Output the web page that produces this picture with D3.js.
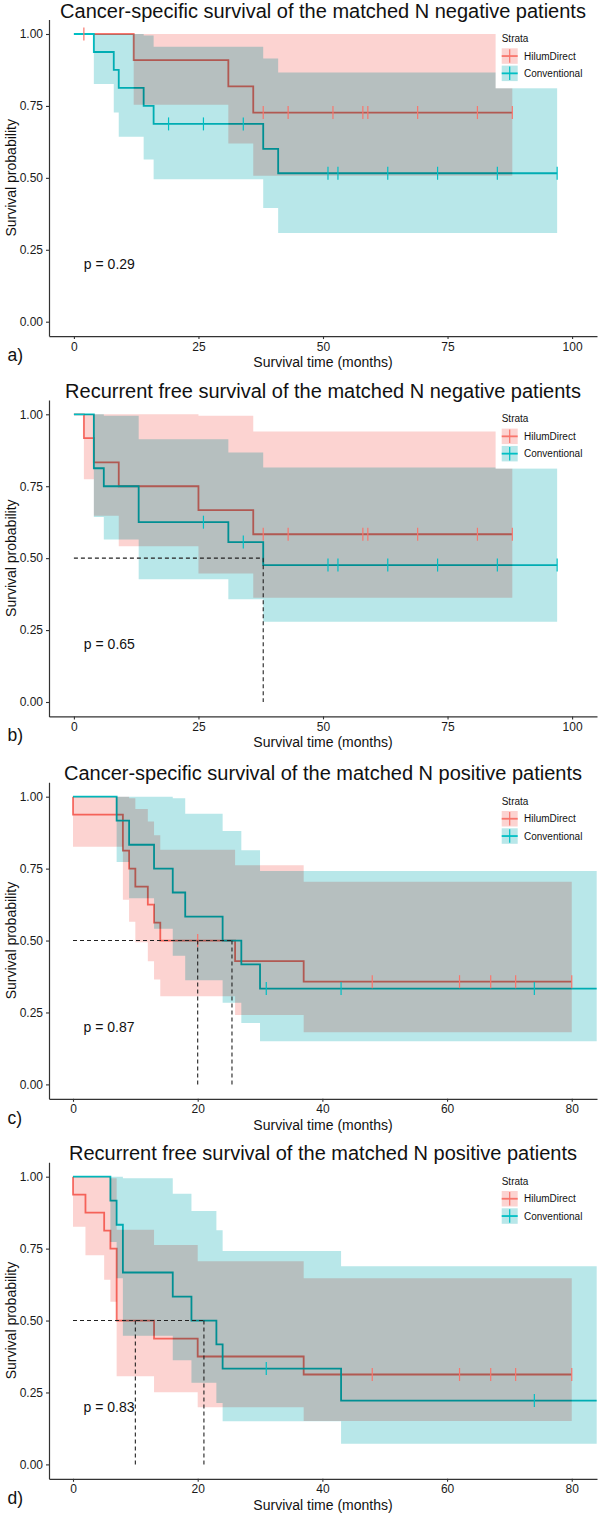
<!DOCTYPE html>
<html>
<head>
<meta charset="utf-8">
<script src="https://cdn.jsdelivr.net/npm/d3@7"></script>
<style>
  body { margin: 0; background: #fff; }
  svg { display: block; font-family: "Liberation Sans", Arial, sans-serif; }
</style>
</head>
<body>
<div id="chart"></div>
<script>
// Strata and labels
const strata = ['HilumDirect', 'Conventional'];
const lineColors = ['#F8766D', '#00BFC4'];
const ribbonColors = ['#FCD3D1', '#B8E7E9'];

const titles = [
    'Cancer-specific survival of the matched N negative patients',
    'Recurrent free survival of the matched N negative patients',
    'Cancer-specific survival of the matched N positive patients',
    'Recurrent free survival of the matched N positive patients'
];
const panelTags = ['a)', 'b)', 'c)', 'd)'];
const pLabels = ['p = 0.29', 'p = 0.65', 'p = 0.87', 'p = 0.83'];
const pLabelTime = [2, 2, 1.7, 1.7];
const xTicksNeg = [0, 25, 50, 75, 100];
const xTicksPos = [0, 20, 40, 60, 80];
const yTicks = [0, 0.25, 0.5, 0.75, 1];

// rows: [time, survival, lower CI, upper CI]
// a) cancer-specific, N negative
const aHilum = [[0, 1, 1, 1], [12, 0.909, 0.754, 1], [31, 0.818, 0.619, 1], [36, 0.727, 0.507, 1], [88, 0.727, 0.507, 1]];
const aHilumCensor = [2, 38, 43, 52, 58, 59, 69, 81, 88];
const aConv = [[0, 1, 1, 1], [4, 0.9375, 0.826, 1], [8, 0.875, 0.727, 1], [9, 0.8125, 0.643, 1], [14, 0.75, 0.564, 0.995],
    [16, 0.6875, 0.495, 0.956], [38, 0.601, 0.395, 0.915], [41, 0.516, 0.308, 0.866], [97, 0.516, 0.308, 0.866]];
const aConvCensor = [19, 26, 34, 51, 53, 63, 73, 85, 97];
const aMedians = [];

// b) recurrence free, N negative
const bHilum = [[0, 1, 1, 1], [2, 0.917, 0.774, 1], [4, 0.833, 0.647, 1], [9, 0.75, 0.541, 1], [25, 0.667, 0.447, 0.995],
    [36, 0.583, 0.362, 0.94], [88, 0.583, 0.362, 0.94]];
const bHilumCensor = [38, 43, 58, 59, 69, 81, 88];
const bConv = [[0, 1, 1, 1], [4, 0.8125, 0.643, 1], [6, 0.75, 0.565, 0.995], [13, 0.625, 0.427, 0.913],
    [31, 0.556, 0.357, 0.867], [38, 0.476, 0.279, 0.815], [97, 0.476, 0.279, 0.815]];
const bConvCensor = [26, 34, 51, 53, 63, 73, 85, 97];
const bMedians = [38];

// c) cancer-specific, N positive
const cHilum = [[0, 1, 1, 1], [0, 0.9375, 0.826, 1], [8, 0.8125, 0.642, 1], [9, 0.75, 0.565, 0.995], [10, 0.6875, 0.494, 0.957],
    [12, 0.625, 0.428, 0.914], [13, 0.5625, 0.365, 0.866], [14, 0.5, 0.306, 0.816], [26, 0.4286, 0.241, 0.762],
    [37, 0.357, 0.181, 0.704], [80, 0.357, 0.181, 0.704]];
const cHilumCensor = [20, 48, 62, 67, 71, 80];
const cConv = [[0, 1, 1, 1], [7, 0.917, 0.773, 1], [9, 0.833, 0.647, 1], [13, 0.75, 0.541, 1], [16, 0.667, 0.447, 0.995],
    [18, 0.583, 0.362, 0.941], [24, 0.5, 0.284, 0.881], [27, 0.417, 0.213, 0.814], [30, 0.333, 0.15, 0.742],
    [84, 0.333, 0.15, 0.742]];
const cConvCensor = [31, 43, 74];
const cMedians = [20, 25.5];

// d) recurrence free, N positive
const dHilum = [[0, 1, 1, 1], [0, 0.9375, 0.826, 1], [2, 0.875, 0.727, 1], [5, 0.8125, 0.642, 1], [6, 0.75, 0.565, 0.995],
    [7, 0.5, 0.306, 0.816], [13, 0.4375, 0.251, 0.763], [20, 0.375, 0.199, 0.706], [37, 0.3125, 0.151, 0.647],
    [80, 0.3125, 0.151, 0.647]];
const dHilumCensor = [48, 62, 67, 71, 80];
const dConv = [[0, 1, 1, 1], [6, 0.917, 0.773, 1], [7, 0.833, 0.647, 1], [8, 0.667, 0.447, 0.995], [16, 0.583, 0.362, 0.941],
    [19, 0.5, 0.284, 0.881], [23, 0.417, 0.213, 0.814], [24, 0.333, 0.15, 0.742], [43, 0.222, 0.072, 0.689],
    [84, 0.222, 0.072, 0.689]];
const dConvCensor = [31, 74];
const dMedians = [10, 21];

// Layout
const W = 600, H = 1515;
const plotLeft = 49, plotRight = 597, unit = 287.7;
const panelTops = [34, 414.3, 796.7, 1176.7];
const xDomains = [[-5, 105], [-5, 105], [-3.85, 84.05], [-3.85, 84.05]];

const panels = [
    { series: [aHilum, aConv], censor: [aHilumCensor, aConvCensor], medians: aMedians, ticks: xTicksNeg },
    { series: [bHilum, bConv], censor: [bHilumCensor, bConvCensor], medians: bMedians, ticks: xTicksNeg },
    { series: [cHilum, cConv], censor: [cHilumCensor, cConvCensor], medians: cMedians, ticks: xTicksPos },
    { series: [dHilum, dConv], censor: [dHilumCensor, dConvCensor], medians: dMedians, ticks: xTicksPos }
];

const svg = d3.select('#chart')
    .append('svg')
    .attr('width', W)
    .attr('height', H);

svg.append('rect').attr('width', W).attr('height', H).attr('fill', '#fff');

// survival value at time t (step function)
function survAt(rows, t) {
    let s = rows[0][1];
    rows.forEach(r => { if (r[0] <= t) s = r[1]; });
    return s;
}

function drawPanel(p, i) {
    const top = panelTops[i];
    const x = d3.scaleLinear().domain(xDomains[i]).range([plotLeft, plotRight]);
    const y = d3.scaleLinear().domain([-0.05, 1.05]).range([top + unit * 1.05, top - unit * 0.05]);

    const g = svg.append('g');

    g.append('clipPath')
        .attr('id', 'clip' + i)
        .append('rect')
        .attr('x', plotLeft)
        .attr('y', y(1.05))
        .attr('width', plotRight - plotLeft)
        .attr('height', y(-0.05) - y(1.05));

    const plot = g.append('g').attr('clip-path', `url(#clip${i})`);

    const line = d3.line()
        .x(d => x(d[0]))
        .y(d => y(d[1]))
        .curve(d3.curveStepAfter);

    const area = d3.area()
        .x(d => x(d[0]))
        .y0(d => y(d[2]))
        .y1(d => y(d[3]))
        .curve(d3.curveStepAfter);

    // survival curves
    p.series.forEach((rows, k) => {
        plot.append('path')
            .datum(rows)
            .attr('fill', 'none')
            .attr('stroke', lineColors[k])
            .attr('stroke-width', 1.8)
            .attr('d', line);
    });

    // confidence bands on top of the curves
    p.series.forEach((rows, k) => {
        plot.append('path')
            .datum(rows)
            .attr('fill', ribbonColors[k])
            .style('mix-blend-mode', 'multiply')
            .attr('d', area);
    });

    // censor marks
    p.censor.forEach((times, k) => {
        plot.selectAll(null)
            .data(times)
            .enter()
            .append('line')
            .attr('x1', d => x(d))
            .attr('x2', d => x(d))
            .attr('y1', d => y(survAt(p.series[k], d)) - 6.5)
            .attr('y2', d => y(survAt(p.series[k], d)) + 6.5)
            .attr('stroke', lineColors[k])
            .attr('stroke-width', 1.2);
    });

    // median survival lines
    if (p.medians.length) {
        const dash = g.append('g')
            .attr('stroke', '#222')
            .attr('stroke-width', 1.1)
            .attr('stroke-dasharray', '4,3');
        dash.append('line')
            .attr('x1', x(0)).attr('x2', x(d3.max(p.medians)))
            .attr('y1', y(0.5)).attr('y2', y(0.5));
        dash.selectAll(null)
            .data(p.medians)
            .enter()
            .append('line')
            .attr('x1', d => x(d)).attr('x2', d => x(d))
            .attr('y1', y(0.5)).attr('y2', y(0));
    }

    // axes
    const yAxis = g.append('g')
        .attr('transform', `translate(${plotLeft},0)`)
        .call(d3.axisLeft(y).tickValues(yTicks).tickFormat(d3.format('.2f')).tickSize(3).tickSizeOuter(0));
    const xAxis = g.append('g')
        .attr('transform', `translate(0,${y(-0.05)})`)
        .call(d3.axisBottom(x).tickValues(p.ticks).tickSize(3).tickSizeOuter(0));
    [yAxis, xAxis].forEach(a => {
        a.select('.domain').attr('stroke', '#333').attr('stroke-width', 1.2);
        a.selectAll('.tick line').attr('stroke', '#333').attr('stroke-width', 1.1);
        a.selectAll('.tick text')
            .attr('fill', '#1a1a1a')
            .style('font-size', '12px')
            .style('font-family', '"Liberation Sans", Arial, sans-serif');
    });

    // p value
    g.append('text')
        .attr('x', x(pLabelTime[i]))
        .attr('y', y(0.2))
        .attr('dy', '0.35em')
        .attr('fill', '#111')
        .style('font-size', '14px')
        .text(pLabels[i]);

    // title
    g.append('text')
        .attr('x', (plotLeft + plotRight) / 2)
        .attr('y', top - 16.5)
        .attr('text-anchor', 'middle')
        .attr('fill', '#111')
        .style('font-size', '20px')
        .text(titles[i]);

    // axis titles
    g.append('text')
        .attr('x', (plotLeft + plotRight) / 2)
        .attr('y', y(-0.05) + 31)
        .attr('text-anchor', 'middle')
        .attr('fill', '#111')
        .style('font-size', '14px')
        .text('Survival time (months)');
    g.append('text')
        .attr('transform', `translate(15.5,${(y(1.05) + y(-0.05)) / 2}) rotate(-90)`)
        .attr('text-anchor', 'middle')
        .attr('fill', '#111')
        .style('font-size', '14px')
        .text('Survival probability');

    // panel tag
    g.append('text')
        .attr('x', 7.5)
        .attr('y', y(-0.05) + 25)
        .attr('fill', '#111')
        .style('font-size', '17.5px')
        .text(panelTags[i]);

    // legend
    const lg = g.append('g');
    lg.append('rect')
        .attr('x', 495.6).attr('y', top - 8)
        .attr('width', 110).attr('height', 62.3)
        .attr('fill', '#fff');
    lg.append('text')
        .attr('x', 501.7).attr('y', top + 7.8)
        .attr('fill', '#111')
        .style('font-size', '10px')
        .text('Strata');
    strata.forEach((name, k) => {
        const ky = top + 14.3 + k * 17.3;
        lg.append('rect')
            .attr('x', 501.7).attr('y', ky)
            .attr('width', 16).attr('height', 15.5)
            .attr('fill', ribbonColors[k]);
        lg.append('line')
            .attr('x1', 501.7).attr('x2', 517.7)
            .attr('y1', ky + 7.75).attr('y2', ky + 7.75)
            .attr('stroke', lineColors[k]).attr('stroke-width', 1.8);
        lg.append('line')
            .attr('x1', 509.7).attr('x2', 509.7)
            .attr('y1', ky + 1).attr('y2', ky + 14.5)
            .attr('stroke', lineColors[k]).attr('stroke-width', 1.2);
        lg.append('text')
            .attr('x', 524).attr('y', ky + 7.75)
            .attr('dy', '0.35em')
            .attr('fill', '#111')
            .style('font-size', '10px')
            .text(name);
    });
}

panels.forEach(drawPanel);
</script>
</body>
</html>
